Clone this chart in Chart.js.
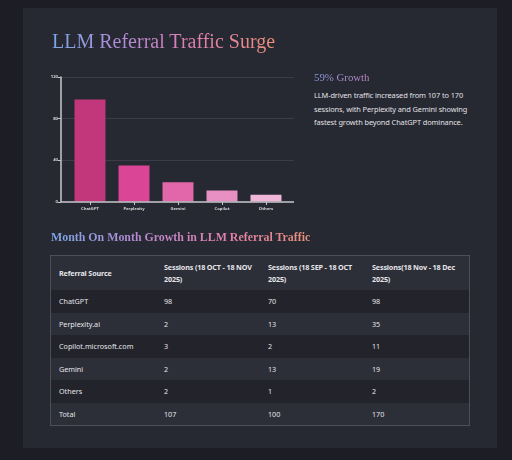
<!DOCTYPE html>
<html>
<head>
<meta charset="utf-8">
<script src="https://cdn.jsdelivr.net/npm/chart.js@4"></script>
<style>
  html, body { margin: 0; padding: 0; }
  body { width: 512px; height: 460px; background: #1c1d25; position: relative; overflow: hidden; font-family: "Noto Sans", sans-serif; }
  .panel { position: absolute; left: 23px; top: 8px; width: 474px; height: 440px; background: #262832; }
  .grad { background: linear-gradient(90deg, #7aa7e6, #b08cd6 30%, #e07fb0 65%, #e8907a); -webkit-background-clip: text; background-clip: text; color: transparent; }
  h1 { position: absolute; left: 29px; top: 22px; margin: 0; font-family: "Liberation Serif", serif; font-weight: normal; font-size: 20px; }
  .chartBox { position: absolute; left: 25px; top: 65px; width: 246px; height: 140px; }
  .growth { position: absolute; left: 291px; top: 63px; margin: 0; font-family: "Liberation Serif", serif; font-size: 10.8px; font-weight: normal; }
  .growth.grad { background: linear-gradient(90deg, #8a9ee0, #c889c8); -webkit-background-clip: text; background-clip: text; color: transparent; }
  .desc { position: absolute; left: 291px; top: 81px; width: 170px; margin: 0; color: #e2e2e6; font-size: 7.4px; letter-spacing: -0.1px; line-height: 13.6px; }
  h2 { position: absolute; left: 28px; top: 222px; margin: 0; font-family: "Liberation Serif", serif; font-weight: bold; font-size: 11.9px; }
  table { position: absolute; left: 27px; top: 247px; width: 420px; border-collapse: collapse; border: 1px solid #4c4e58; font-size: 7.2px; color: #e6e6ea; }
  th, td { text-align: left; padding: 0 2px 0 8px; vertical-align: middle; }
  th { font-weight: bold; height: 34px; background: #2c2e38; line-height: 12px; letter-spacing: -0.15px; }
  td { height: 22.5px; }
  tbody tr:nth-child(odd) td { background: #22232b; }
  tbody tr:nth-child(even) td { background: #2c2e38; }
  th:nth-child(1), td:nth-child(1) { width: 95px; }
  th:nth-child(2), td:nth-child(2) { width: 94px; }
  th:nth-child(3), td:nth-child(3) { width: 94px; }
</style>
</head>
<body>
<div class="panel">
  <h1 class="grad">LLM Referral Traffic Surge</h1>
  <div class="chartBox"><canvas id="barChart"></canvas></div>
  <h3 class="growth grad">59% Growth</h3>
  <p class="desc">LLM-driven traffic increased from 107 to 170 sessions, with Perplexity and Gemini showing fastest growth beyond ChatGPT dominance.</p>
  <h2 class="grad">Month On Month Growth in LLM Referral Traffic</h2>
  <table id="growthTable">
    <thead><tr id="headRow"></tr></thead>
    <tbody id="tableBody"></tbody>
  </table>
</div>
<script>
// ---------- Data ----------
const barLabels = ["ChatGPT", "Perplexity", "Gemini", "Copilot", "Others"];
const barValues = [98, 35, 19, 11, 7];
const barColors = ["#c2367c", "#da4695", "#e266aa", "#e88fc4", "#efb6da"];
const yTicks = [0, 40, 80, 120];

const tableHeaders = ["Referral Source", "Sessions (18 OCT - 18 NOV 2025)", "Sessions (18 SEP - 18 OCT 2025)", "Sessions(18 Nov - 18 Dec 2025)"];
const sources = ["ChatGPT", "Perplexity.ai", "Copilot.microsoft.com", "Gemini", "Others", "Total"];
const octNov = [98, 2, 3, 2, 2, 107];
const sepOct = [70, 13, 2, 13, 1, 100];
const novDec = [98, 35, 11, 19, 2, 170];

// ---------- Table ----------
const headRow = document.getElementById("headRow");
tableHeaders.forEach(h => {
  const th = document.createElement("th");
  th.textContent = h;
  headRow.appendChild(th);
});
const tbody = document.getElementById("tableBody");
sources.forEach((src, i) => {
  const tr = document.createElement("tr");
  [src, octNov[i], sepOct[i], novDec[i]].forEach(v => {
    const td = document.createElement("td");
    td.textContent = v;
    tr.appendChild(td);
  });
  tbody.appendChild(tr);
});

// ---------- Chart ----------
// axis lines sit a little outside the bar area, like the original
const AXIS_GAP_LEFT = 7, AXIS_GAP_RIGHT = 6;
const axisFrame = {
  id: "axisFrame",
  beforeDatasetsDraw(chart) {
    const { ctx, chartArea: a, scales: { y } } = chart;
    const left = a.left - AXIS_GAP_LEFT, right = a.right + AXIS_GAP_RIGHT;
    ctx.save();
    // grid lines
    ctx.strokeStyle = "#3a3c46";
    ctx.lineWidth = 1;
    yTicks.slice(1).forEach(v => {
      const py = Math.round(y.getPixelForValue(v)) + 0.5;
      ctx.beginPath(); ctx.moveTo(left, py); ctx.lineTo(right, py); ctx.stroke();
    });
    ctx.restore();
  },
  afterDatasetsDraw(chart) {
    const { ctx, chartArea: a, scales: { x, y } } = chart;
    const left = a.left - AXIS_GAP_LEFT, right = a.right + AXIS_GAP_RIGHT;
    const bottom = y.getPixelForValue(0);
    ctx.save();
    ctx.strokeStyle = "#c8c8cc";
    ctx.lineWidth = 1.5;
    ctx.beginPath();
    ctx.moveTo(left, y.getPixelForValue(120));
    ctx.lineTo(left, bottom);
    ctx.lineTo(right, bottom);
    ctx.stroke();
    ctx.lineWidth = 1;
    yTicks.forEach(v => {
      const py = Math.round(y.getPixelForValue(v)) + 0.5;
      ctx.beginPath(); ctx.moveTo(left - 3, py); ctx.lineTo(left, py); ctx.stroke();
    });
    barLabels.forEach((_, i) => {
      const px = Math.round(x.getPixelForValue(i)) + 0.5;
      ctx.beginPath(); ctx.moveTo(px, bottom); ctx.lineTo(px, bottom + 3); ctx.stroke();
    });
    ctx.restore();
  }
};

const ctx = document.getElementById("barChart").getContext("2d");
new Chart(ctx, {
  type: "bar",
  data: {
    labels: barLabels,
    datasets: [{
      data: barValues,
      backgroundColor: barColors,
      borderWidth: 0,
      barPercentage: 0.88,
      categoryPercentage: 0.8
    }]
  },
  options: {
    responsive: true,
    maintainAspectRatio: false,
    animation: false,
    layout: { padding: { top: 3, right: AXIS_GAP_RIGHT, left: 0, bottom: 0 } },
    plugins: { legend: { display: false }, tooltip: { enabled: false } },
    scales: {
      x: {
        afterFit: scale => { scale.height = 11; },
        grid: { display: false, drawTicks: false },
        border: { display: false },
        ticks: { color: "#d8d8dc", font: { size: 4.2, family: "Noto Sans", weight: "bold" }, padding: 4, maxRotation: 0, autoSkip: false }
      },
      y: {
        min: 0,
        max: 120,
        afterBuildTicks: axis => { axis.ticks = yTicks.map(v => ({ value: v })); },
        afterFit: scale => { scale.width = 20; },
        // invisible grid: only its tick length is used to push the labels left of the axis line
        grid: { display: true, color: "rgba(0,0,0,0)", drawTicks: true, tickLength: 9 },
        border: { display: false },
        ticks: { color: "#d8d8dc", font: { size: 4.2, family: "Noto Sans", weight: "bold" }, padding: 1 }
      }
    }
  },
  plugins: [axisFrame]
});
</script>
</body>
</html>
